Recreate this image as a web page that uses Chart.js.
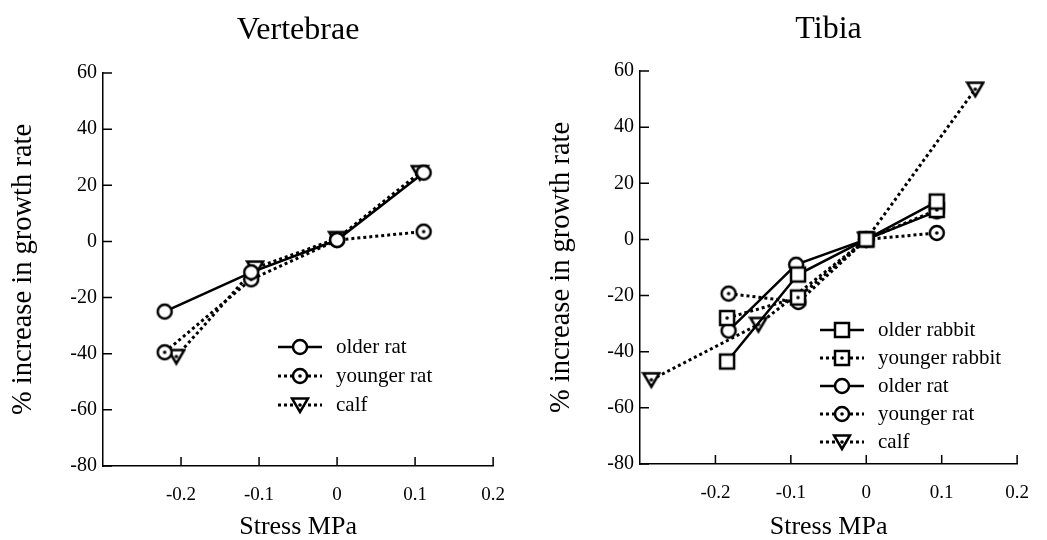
<!DOCTYPE html>
<html>
<head>
<meta charset="utf-8">
<script src="https://cdn.jsdelivr.net/npm/chart.js@4.4.1/dist/chart.umd.min.js"></script>
<style>
  body { margin: 0; background: #fff; }
  #left { position: absolute; left: 0; top: 0; }
  #right { position: absolute; left: 523px; top: 0; }
</style>
</head>
<body>
<canvas id="left" width="523" height="540"></canvas>
<canvas id="right" width="524" height="540"></canvas>
<script>
// Axis ticks (shared)
var xTicks = [-0.2, -0.1, 0, 0.1, 0.2];
var yTicks = [-80, -60, -40, -20, 0, 20, 40, 60];

// Vertebrae
var vertOlderRatX = [-0.221, -0.110, 0, 0.111];
var vertOlderRatY = [-25, -11, 0.5, 24.5];
var vertYoungerRatX = [-0.221, -0.110, 0, 0.111];
var vertYoungerRatY = [-39.5, -13.5, 0.5, 3.5];
var vertCalfX = [-0.206, -0.105, 0, 0.106];
var vertCalfY = [-41, -9.5, 1, 24.5];

// Tibia
var tibOlderRabbitX = [-0.1845, -0.0905, 0, 0.0935];
var tibOlderRabbitY = [-43.5, -12.5, 0, 13.5];
var tibYoungerRabbitX = [-0.1845, -0.0905, 0, 0.0935];
var tibYoungerRabbitY = [-28, -20.7, 0, 10.5];
var tibOlderRatX = [-0.1825, -0.093, 0, 0.0935];
var tibOlderRatY = [-32.5, -9, 0, 10];
var tibYoungerRatX = [-0.1825, -0.09, 0, 0.0935];
var tibYoungerRatY = [-19.3, -22.3, 0, 2.3];
var tibCalfX = [-0.285, -0.143, 0, 0.1445];
var tibCalfY = [-50, -30.3, 0, 53.5];

var FONT = '"Liberation Serif", "Times New Roman", serif';

/**
 * Marker image: white filled shape, black outline, optional centre dot
 */
function makeMarker(shape, dot) {
    var c = document.createElement('canvas');
    c.width = 20;
    c.height = 20;
    var g = c.getContext('2d');
    g.lineWidth = 2.5;
    g.strokeStyle = '#000';
    g.fillStyle = '#fff';
    g.beginPath();
    if (shape === 'circle')
        g.arc(10, 10, 7, 0, Math.PI * 2);
    else if (shape === 'square')
        g.rect(3, 3, 14, 14);
    else {
        g.moveTo(2, 3.5);
        g.lineTo(18, 3.5);
        g.lineTo(10, 17);
        g.closePath();
    }
    g.fill();
    g.stroke();
    if (dot) {
        g.fillStyle = '#000';
        g.beginPath();
        g.arc(10, 10, 1.8, 0, Math.PI * 2);
        g.fill();
    }
    return c;
}

function series(label, xs, ys, shape, dotted) {
    return {
        label: label,
        data: xs.map(function (x, i) { return { x: x, y: ys[i] }; }),
        showLine: true,
        borderColor: '#000',
        borderWidth: dotted ? 3 : 2.5,
        borderDash: dotted ? [3, 3] : [],
        pointStyle: makeMarker(shape, dotted),
        tension: 0
    };
}

// Inward tick marks on both axes, and title centred over the plot
var innerTicks = {
    id: 'innerTicks',
    afterLayout: function (chart) {
        var t = chart.titleBlock;
        if (t) {
            t.left = chart.chartArea.left;
            t.right = chart.chartArea.right;
        }
    },
    beforeDatasetsDraw: function (chart) {
        var ctx = chart.ctx, area = chart.chartArea;
        var sx = chart.scales.x, sy = chart.scales.y;
        ctx.save();
        ctx.strokeStyle = '#000';
        ctx.lineWidth = 1.5;
        ctx.beginPath();
        xTicks.forEach(function (v) {
            var px = sx.getPixelForValue(v);
            ctx.moveTo(px, area.bottom);
            ctx.lineTo(px, area.bottom - 9);
        });
        yTicks.forEach(function (v) {
            var py = sy.getPixelForValue(v);
            ctx.moveTo(area.left, py);
            ctx.lineTo(area.left + 9, py);
        });
        ctx.stroke();
        ctx.restore();
    }
};

// Legend drawn inside the plot
var boxLegend = {
    id: 'boxLegend',
    afterDraw: function (chart, args, opts) {
        var ctx = chart.ctx;
        chart.data.datasets.forEach(function (ds, i) {
            var y = opts.y + i * opts.gap;
            ctx.save();
            ctx.strokeStyle = '#000';
            ctx.lineWidth = ds.borderWidth;
            ctx.setLineDash(ds.borderDash);
            ctx.beginPath();
            ctx.moveTo(opts.x, y);
            ctx.lineTo(opts.x + 44, y);
            ctx.stroke();
            ctx.setLineDash([]);
            var img = ds.pointStyle;
            ctx.drawImage(img, opts.x + 22 - img.width / 2, y - img.height / 2);
            ctx.fillStyle = '#000';
            ctx.font = '21px ' + FONT;
            ctx.textBaseline = 'middle';
            ctx.fillText(ds.label, opts.x + 58, y);
            ctx.restore();
        });
    }
};

function tickLabel(v) {
    var r = Math.round(v * 10) / 10;
    if (r < -0.25) return '';
    return String(r);
}

function makeChart(id, title, datasets, o) {
    return new Chart(document.getElementById(id).getContext('2d'), {
        type: 'scatter',
        data: { datasets: datasets },
        plugins: [innerTicks, boxLegend],
        options: {
            responsive: false,
            animation: false,
            events: [],
            layout: { padding: { left: 0, right: o.padRight, top: 0, bottom: 0 } },
            plugins: {
                legend: { display: false },
                tooltip: { enabled: false },
                title: {
                    display: true,
                    text: title,
                    color: '#000',
                    font: { family: FONT, size: 32, weight: 'normal', lineHeight: 1 },
                    padding: { top: o.titleTop, bottom: o.titleBottom }
                },
                boxLegend: o.legend
            },
            scales: {
                x: {
                    type: 'linear',
                    min: -0.3,
                    max: 0.2,
                    afterFit: function (s) { s.height = o.xHeight; },
                    grid: { display: false, drawTicks: false },
                    border: { display: true, color: '#000', width: 1.5 },
                    ticks: {
                        stepSize: 0.1,
                        color: '#000',
                        padding: 18,
                        maxRotation: 0,
                        autoSkip: false,
                        font: { family: FONT, size: 19 },
                        callback: tickLabel
                    },
                    title: {
                        display: true,
                        text: 'Stress MPa',
                        color: '#000',
                        font: { family: FONT, size: 26, lineHeight: 1 },
                        padding: { top: 0, bottom: 0 }
                    }
                },
                y: {
                    min: -80,
                    max: 60,
                    afterFit: function (s) { s.width = o.yWidth; },
                    grid: { display: false, drawTicks: false },
                    border: { display: true, color: '#000', width: 1.5 },
                    ticks: {
                        stepSize: 20,
                        color: '#000',
                        padding: 6,
                        font: { family: FONT, size: 20 }
                    },
                    title: {
                        display: true,
                        text: '% increase in growth rate',
                        color: '#000',
                        font: { family: FONT, size: 28.5, lineHeight: 1 },
                        padding: { top: o.yTitlePad, bottom: 0 }
                    }
                }
            }
        }
    });
}

makeChart('left', 'Vertebrae', [
    series('older rat', vertOlderRatX, vertOlderRatY, 'circle', false),
    series('younger rat', vertYoungerRatX, vertYoungerRatY, 'circle', true),
    series('calf', vertCalfX, vertCalfY, 'triangle', true)
], {
    padRight: 27, titleTop: 15, titleBottom: 26, xHeight: 74, yWidth: 103, yTitlePad: 9,
    legend: { x: 278, y: 347, gap: 29 }
});

makeChart('right', 'Tibia', [
    series('older rabbit', tibOlderRabbitX, tibOlderRabbitY, 'square', false),
    series('younger rabbit', tibYoungerRabbitX, tibYoungerRabbitY, 'square', true),
    series('older rat', tibOlderRatX, tibOlderRatY, 'circle', false),
    series('younger rat', tibYoungerRatX, tibYoungerRatY, 'circle', true),
    series('calf', tibCalfX, tibCalfY, 'triangle', true)
], {
    padRight: 14, titleTop: 14, titleBottom: 25, xHeight: 76, yWidth: 117, yTitlePad: 24,
    legend: { x: 297, y: 330, gap: 28 }
});
</script>
</body>
</html>
